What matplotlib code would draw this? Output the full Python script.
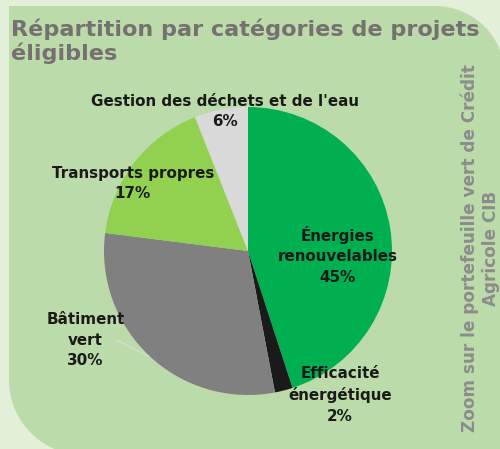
import matplotlib.pyplot as plt
import numpy as np
from matplotlib.patches import Polygon

categories = ["Énergies\nrenouvelables", "Efficacité\nénergétique", "Bâtiment\nvert",
              "Transports propres", "Gestion des déchets et de l'eau"]
shares = [45, 2, 30, 17, 6]
colors = ["#00b050", "#1a1a1a", "#808080", "#92d050", "#d9d9d9"]
# label centres, in pie units (radius 1)
label_pos = [(0.62, -0.03), (0.64, -1.0), (-1.13, -0.62), (-0.80, 0.47), (-0.16, 0.97)]

W, H = 500, 449
fig = plt.figure(figsize=(W / 100, H / 100), dpi=100)
fig.patch.set_facecolor("#e2efd9")

# background panel with two rounded corners (pixel coords)
bg = fig.add_axes([0, 0, 1, 1])
bg.set_xlim(0, W)
bg.set_ylim(H, 0)
bg.axis("off")
r1, r2 = 70, 75
t = np.linspace(0, np.pi / 2, 30)
pts = [(9, 6), (505 - r1, 6)]
pts += [(505 - r1 + r1 * np.sin(a), 6 + r1 - r1 * np.cos(a)) for a in t]
pts += [(505, 460), (9 + r2, 455)]
pts += [(9 + r2 - r2 * np.sin(a), 455 - r2 + r2 * np.cos(a)) for a in t]
bg.add_patch(Polygon(pts, closed=True, facecolor="#bbdcaa", edgecolor="none"))

bg.text(11, 18, "Répartition par catégories de projets\néligibles", fontsize=16.1,
        fontweight="bold", color="#757171", va="top", ha="left", linespacing=1.15)
bg.text(480, 248, "Zoom sur le portefeuille vert de Crédit\nAgricole CIB", fontsize=12.2,
        fontweight="bold", color="#8c8c8c", rotation=90, ha="center", va="center",
        multialignment="center", linespacing=1.2)

# pie
cx, cy, R = 248, 251, 144
ax = fig.add_axes([(cx - R) / W, (H - cy - R) / H, 2 * R / W, 2 * R / H])
ax.pie(shares, colors=colors, startangle=90, counterclock=False, radius=1,
       wedgeprops=dict(linewidth=0))
ax.set_xlim(-1, 1)
ax.set_ylim(-1, 1)
ax.set_aspect("equal")
ax.axis("off")

# leader line for Bâtiment vert
ax.plot([-0.91, -0.69], [-0.62, -0.73], color="#d9d9d9", lw=1, clip_on=False)

for name, v, (x, y) in zip(categories, shares, label_pos):
    ax.text(x, y, f"{name}\n{v}%", ha="center", va="center", fontsize=10.9,
            fontweight="bold", color="#1a1a1a", linespacing=1.45, clip_on=False)

fig.savefig("out.png", dpi=100, facecolor=fig.get_facecolor())
